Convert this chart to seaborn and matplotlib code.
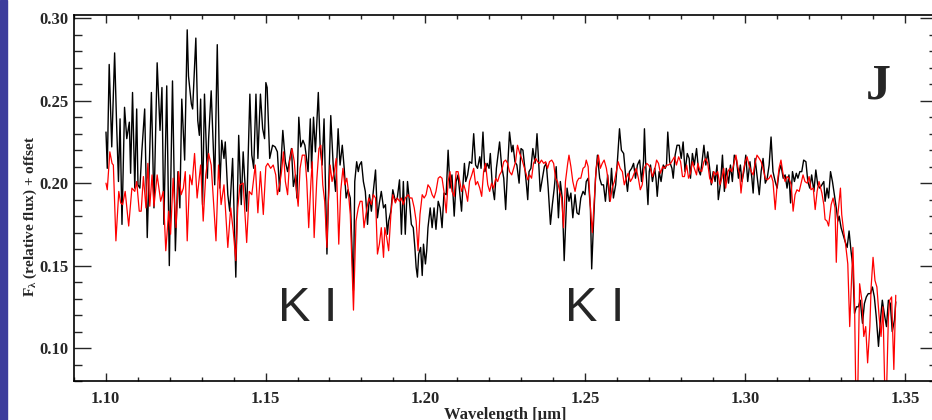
import matplotlib

matplotlib.use("Agg")
import matplotlib.pyplot as plt
import numpy as np
import pandas as pd
import seaborn as sns
from matplotlib.patches import Rectangle
from matplotlib.ticker import MultipleLocator

sns.set_theme(style="ticks")
plt.rcParams["font.family"] = ["Liberation Serif", "DejaVu Serif"]
plt.rcParams["mathtext.fontset"] = "custom"
plt.rcParams["mathtext.rm"] = "Liberation Serif:bold"
plt.rcParams["mathtext.it"] = "Liberation Serif:bold"
plt.rcParams["mathtext.bf"] = "Liberation Serif:bold"

# black spectrum (wavelength in micron, relative flux + offset)
black_wl = [
    1.1001, 1.1005, 1.1011, 1.1019, 1.1028, 1.1034, 1.1040, 1.1045, 1.1051, 1.1059,
    1.1066, 1.1074, 1.1078, 1.1084, 1.1091, 1.1097, 1.1101, 1.1107, 1.1113, 1.1122,
    1.1130, 1.1143, 1.1151, 1.1161, 1.1170, 1.1176, 1.1182, 1.1191, 1.1199, 1.1209,
    1.1218, 1.1226, 1.1232, 1.1238, 1.1247, 1.1255, 1.1259, 1.1268, 1.1272, 1.1282,
    1.1288, 1.1293, 1.1297, 1.1303, 1.1309, 1.1318, 1.1322, 1.1330, 1.1341, 1.1349,
    1.1357, 1.1363, 1.1370, 1.1374, 1.1382, 1.1388, 1.1397, 1.1407, 1.1416, 1.1424,
    1.1430, 1.1434, 1.1441, 1.1451, 1.1457, 1.1463, 1.1470, 1.1476, 1.1484, 1.1491,
    1.1497, 1.1501, 1.1505, 1.1513, 1.1522, 1.1530,
    1.1537, 1.1544, 1.1548, 1.1554, 1.1562, 1.1569, 1.1575, 1.1581, 1.1587, 1.1594,
    1.1598, 1.1604, 1.1610, 1.1617, 1.1623, 1.1627, 1.1633, 1.1640, 1.1644, 1.1650,
    1.1656, 1.1665, 1.1671, 1.1677, 1.1683, 1.1692, 1.1698, 1.1704, 1.1712, 1.1719,
    1.1727, 1.1733, 1.1740, 1.1746, 1.1752, 1.1758, 1.1765, 1.1775, 1.1779, 1.1785,
    1.1790, 1.1794, 1.1800, 1.1806, 1.1812, 1.1819, 1.1825, 1.1831, 1.1837, 1.1844,
    1.1850, 1.1856, 1.1862, 1.1869, 1.1875, 1.1881, 1.1885, 1.1892, 1.1898, 1.1906,
    1.1912, 1.1919, 1.1925, 1.1931, 1.1937, 1.1944, 1.1950, 1.1956, 1.1962, 1.1967,
    1.1971, 1.1975, 1.1979, 1.1985, 1.1990, 1.1994, 1.2000, 1.2004, 1.2008, 1.2015,
    1.2021, 1.2027, 1.2033, 1.2040, 1.2046, 1.2052, 1.2058, 1.2065, 1.2071, 1.2077,
    1.2083, 1.2090, 1.2096, 1.2102,
    1.2113, 1.2118, 1.2122, 1.2126, 1.2132, 1.2138, 1.2145, 1.2151, 1.2157, 1.2163,
    1.2170, 1.2174, 1.2180, 1.2186, 1.2193, 1.2199, 1.2203, 1.2209, 1.2216, 1.2222,
    1.2232, 1.2238, 1.2245, 1.2251, 1.2257, 1.2263, 1.2270, 1.2274, 1.2280, 1.2286,
    1.2293, 1.2299, 1.2305, 1.2311, 1.2316, 1.2320, 1.2324, 1.2330, 1.2336, 1.2343,
    1.2349, 1.2353, 1.2359, 1.2366, 1.2372, 1.2378, 1.2384, 1.2391, 1.2397, 1.2403,
    1.2409, 1.2416, 1.2422, 1.2428, 1.2434, 1.2438, 1.2443, 1.2449, 1.2455, 1.2461,
    1.2468, 1.2474, 1.2480, 1.2486, 1.2493, 1.2499, 1.2503, 1.2509, 1.2516, 1.2520,
    1.2526, 1.2532, 1.2538, 1.2545, 1.2551, 1.2557, 1.2563, 1.2570, 1.2576, 1.2582,
    1.2588, 1.2595, 1.2601, 1.2607, 1.2613, 1.2620, 1.2626, 1.2632, 1.2638, 1.2645,
    1.2651, 1.2657, 1.2663, 1.2670, 1.2676, 1.2682,
    1.2685, 1.2689, 1.2696, 1.2700, 1.2704, 1.2710, 1.2717, 1.2721, 1.2725, 1.2731,
    1.2737, 1.2744, 1.2750, 1.2754, 1.2758, 1.2764, 1.2771, 1.2775, 1.2781, 1.2787,
    1.2794, 1.2800, 1.2806, 1.2812, 1.2819, 1.2825, 1.2829, 1.2835, 1.2841, 1.2848,
    1.2854, 1.2860, 1.2864, 1.2871, 1.2877, 1.2883, 1.2889, 1.2894, 1.2900, 1.2906,
    1.2912, 1.2916, 1.2923, 1.2929, 1.2935, 1.2941, 1.2948, 1.2954, 1.2960, 1.2966,
    1.2973, 1.2979, 1.2985, 1.2990, 1.2996, 1.3002, 1.3008, 1.3015, 1.3021, 1.3025,
    1.3031, 1.3037, 1.3044, 1.3050, 1.3056, 1.3063, 1.3069, 1.3075, 1.3081, 1.3087,
    1.3094, 1.3100, 1.3106, 1.3112, 1.3119, 1.3125, 1.3131, 1.3137, 1.3142, 1.3148,
    1.3154, 1.3160, 1.3165, 1.3171, 1.3177, 1.3183, 1.3190, 1.3196, 1.3202, 1.3208,
    1.3215, 1.3221, 1.3227, 1.3233, 1.3240, 1.3246, 1.3250, 1.3256, 1.3261,
    1.3267, 1.3273, 1.3279, 1.3285, 1.3290, 1.3294, 1.3300, 1.3306, 1.3312, 1.3319,
    1.3325, 1.3331, 1.3337, 1.3342, 1.3348, 1.3354, 1.3360, 1.3367, 1.3373, 1.3379,
    1.3385, 1.3392, 1.3398, 1.3404, 1.3410, 1.3417, 1.3423, 1.3429, 1.3435, 1.3442,
    1.3448, 1.3454, 1.3460, 1.3467, 1.3471,
]
black_flux = [
    0.231, 0.209, 0.272, 0.222, 0.279, 0.237, 0.201, 0.239, 0.175, 0.246,
    0.227, 0.237, 0.206, 0.255, 0.197, 0.245, 0.199, 0.197, 0.219, 0.245,
    0.167, 0.255, 0.185, 0.273, 0.232, 0.258, 0.175, 0.259, 0.150, 0.262,
    0.159, 0.207, 0.185, 0.251, 0.214, 0.293, 0.265, 0.248, 0.245, 0.288,
    0.238, 0.229, 0.251, 0.187, 0.254, 0.203, 0.227, 0.256, 0.199, 0.284,
    0.197, 0.226, 0.215, 0.225, 0.193, 0.183, 0.215, 0.143, 0.229, 0.187,
    0.219, 0.205, 0.183, 0.254, 0.217, 0.209, 0.254, 0.215, 0.254, 0.233,
    0.227, 0.261, 0.258, 0.215, 0.223, 0.222,
    0.219, 0.195, 0.211, 0.232, 0.213, 0.207, 0.214, 0.221, 0.198, 0.205,
    0.191, 0.240, 0.222, 0.226, 0.223, 0.217, 0.207, 0.239, 0.209, 0.240,
    0.219, 0.255, 0.221, 0.211, 0.239, 0.157, 0.201, 0.241, 0.209, 0.195,
    0.233, 0.211, 0.223, 0.209, 0.191, 0.196, 0.191, 0.135, 0.201, 0.213,
    0.207, 0.211, 0.213, 0.201, 0.195, 0.175, 0.193, 0.183, 0.195, 0.208,
    0.179, 0.188, 0.195, 0.185, 0.187, 0.169, 0.177, 0.183, 0.196, 0.189,
    0.191, 0.202, 0.169, 0.201, 0.169, 0.201, 0.189, 0.175, 0.173, 0.161,
    0.149, 0.143, 0.157, 0.161, 0.144, 0.163, 0.151, 0.159, 0.173, 0.185,
    0.173, 0.185, 0.172, 0.189, 0.185, 0.173, 0.194, 0.193, 0.220, 0.197,
    0.205, 0.180, 0.201, 0.205,
    0.183, 0.201, 0.212, 0.201, 0.205, 0.213, 0.212, 0.230, 0.211, 0.209,
    0.216, 0.209, 0.231, 0.207, 0.212, 0.209, 0.218, 0.199, 0.190, 0.209,
    0.225, 0.211, 0.203, 0.184, 0.209, 0.231, 0.219, 0.223, 0.213, 0.211,
    0.200, 0.221, 0.220, 0.209, 0.199, 0.190, 0.207, 0.209, 0.221, 0.212,
    0.230, 0.217, 0.195, 0.203, 0.210, 0.212, 0.197, 0.175, 0.187, 0.197,
    0.210, 0.179, 0.201, 0.191, 0.153, 0.173, 0.197, 0.189, 0.194, 0.179,
    0.193, 0.182, 0.181, 0.191, 0.195, 0.193, 0.201, 0.203, 0.185, 0.148,
    0.177, 0.203, 0.217, 0.203, 0.199, 0.199, 0.189, 0.205, 0.189, 0.209,
    0.191, 0.199, 0.215, 0.233, 0.220, 0.218, 0.205, 0.195, 0.207, 0.209,
    0.212, 0.203, 0.211, 0.214, 0.201, 0.213,
    0.233, 0.211, 0.187, 0.207, 0.211, 0.201, 0.209, 0.203, 0.192, 0.207,
    0.201, 0.211, 0.209, 0.211, 0.231, 0.213, 0.209, 0.203, 0.217, 0.223,
    0.223, 0.215, 0.225, 0.207, 0.218, 0.215, 0.203, 0.218, 0.211, 0.221,
    0.208, 0.205, 0.211, 0.223, 0.211, 0.219, 0.209, 0.199, 0.207, 0.201,
    0.211, 0.190, 0.200, 0.217, 0.195, 0.209, 0.200, 0.211, 0.201, 0.217,
    0.214, 0.203, 0.211, 0.201, 0.207, 0.217, 0.201, 0.213, 0.203, 0.194,
    0.215, 0.205, 0.193, 0.207, 0.215, 0.200, 0.203, 0.211, 0.228, 0.207,
    0.201, 0.197, 0.207, 0.211, 0.203, 0.205, 0.197, 0.205, 0.188, 0.207,
    0.201, 0.206, 0.203, 0.207, 0.207, 0.214, 0.213, 0.201, 0.197, 0.205,
    0.195, 0.208, 0.199, 0.197, 0.199, 0.201, 0.189, 0.197, 0.191,
    0.207, 0.201, 0.193, 0.185, 0.177, 0.180, 0.173, 0.169, 0.165, 0.161,
    0.171, 0.159, 0.149, 0.121, 0.125, 0.125, 0.129, 0.115, 0.127, 0.131,
    0.133, 0.133, 0.137, 0.131, 0.119, 0.101, 0.117, 0.129, 0.121, 0.113,
    0.129, 0.127, 0.110, 0.117, 0.128,
]

# red comparison spectrum
red_wl = [
    1.1001, 1.1005, 1.1013, 1.1020, 1.1024, 1.1032, 1.1041, 1.1047, 1.1053, 1.1061,
    1.1072, 1.1082, 1.1091, 1.1097, 1.1105, 1.1111, 1.1118, 1.1126, 1.1132, 1.1138,
    1.1145, 1.1151, 1.1161, 1.1172, 1.1180, 1.1188, 1.1197, 1.1203, 1.1211, 1.1220,
    1.1228, 1.1236, 1.1243, 1.1249, 1.1255, 1.1263, 1.1270, 1.1278, 1.1286, 1.1297,
    1.1305, 1.1313, 1.1322, 1.1330, 1.1345, 1.1353, 1.1361, 1.1370, 1.1382, 1.1391,
    1.1399, 1.1407, 1.1413, 1.1420, 1.1430, 1.1441, 1.1449, 1.1457, 1.1468, 1.1476,
    1.1484, 1.1493, 1.1501, 1.1507, 1.1516, 1.1524, 1.1532,
    1.1537, 1.1544, 1.1550, 1.1556, 1.1562, 1.1569, 1.1575, 1.1583, 1.1590, 1.1596,
    1.1602, 1.1608, 1.1615, 1.1623, 1.1629, 1.1635, 1.1642, 1.1646, 1.1652, 1.1660,
    1.1667, 1.1673, 1.1679, 1.1685, 1.1692, 1.1696, 1.1702, 1.1708, 1.1715, 1.1721,
    1.1729, 1.1735, 1.1742, 1.1748, 1.1754, 1.1758, 1.1765, 1.1775, 1.1783, 1.1790,
    1.1796, 1.1802, 1.1808, 1.1817, 1.1823, 1.1831, 1.1837, 1.1844, 1.1850, 1.1856,
    1.1862, 1.1869, 1.1873, 1.1879, 1.1885, 1.1892, 1.1898, 1.1906, 1.1912, 1.1919,
    1.1925, 1.1931, 1.1937, 1.1946, 1.1952, 1.1958, 1.1965, 1.1971, 1.1977, 1.1983,
    1.1990, 1.1996, 1.2002, 1.2008, 1.2015, 1.2021, 1.2027, 1.2033, 1.2040, 1.2046,
    1.2052, 1.2058, 1.2065, 1.2071, 1.2077, 1.2083, 1.2090, 1.2096, 1.2102,
    1.2113, 1.2120, 1.2126, 1.2132, 1.2138, 1.2145, 1.2151, 1.2157, 1.2163, 1.2170,
    1.2176, 1.2182, 1.2188, 1.2195, 1.2201, 1.2207, 1.2213, 1.2220, 1.2226, 1.2232,
    1.2238, 1.2245, 1.2251, 1.2257, 1.2263, 1.2270, 1.2276, 1.2282, 1.2288, 1.2295,
    1.2301, 1.2307, 1.2313, 1.2320, 1.2326, 1.2332, 1.2338, 1.2345, 1.2351, 1.2357,
    1.2363, 1.2370, 1.2376, 1.2382, 1.2388, 1.2395, 1.2401, 1.2407, 1.2413, 1.2420,
    1.2426, 1.2432, 1.2438, 1.2445, 1.2449, 1.2455, 1.2461, 1.2468, 1.2474, 1.2480,
    1.2486, 1.2493, 1.2499, 1.2503, 1.2509, 1.2516, 1.2522, 1.2528, 1.2534, 1.2541,
    1.2547, 1.2553, 1.2559, 1.2566, 1.2572, 1.2578, 1.2584, 1.2591, 1.2597, 1.2603,
    1.2609, 1.2616, 1.2622, 1.2628, 1.2634, 1.2641, 1.2647, 1.2653, 1.2659, 1.2666,
    1.2672, 1.2678, 1.2684,
    1.2692, 1.2698, 1.2704, 1.2710, 1.2717, 1.2723, 1.2729, 1.2735, 1.2742, 1.2748,
    1.2754, 1.2760, 1.2767, 1.2773, 1.2779, 1.2785, 1.2792, 1.2798, 1.2804, 1.2810,
    1.2817, 1.2823, 1.2829, 1.2835, 1.2841, 1.2848, 1.2852, 1.2858, 1.2864, 1.2871,
    1.2877, 1.2883, 1.2889, 1.2896, 1.2902, 1.2908, 1.2914, 1.2921, 1.2927, 1.2933,
    1.2939, 1.2946, 1.2952, 1.2958, 1.2964, 1.2971, 1.2977, 1.2983, 1.2987, 1.2994,
    1.3000, 1.3006, 1.3012, 1.3019, 1.3025, 1.3031, 1.3037, 1.3044, 1.3050, 1.3056,
    1.3063, 1.3069, 1.3075, 1.3081, 1.3087, 1.3094, 1.3100, 1.3106, 1.3112, 1.3119,
    1.3125, 1.3131, 1.3137, 1.3144, 1.3150, 1.3156, 1.3162, 1.3169, 1.3175, 1.3181,
    1.3187, 1.3194, 1.3200, 1.3206, 1.3213, 1.3219, 1.3225, 1.3231, 1.3240, 1.3246,
    1.3250, 1.3256, 1.3261,
    1.3269, 1.3275, 1.3281, 1.3285, 1.3290, 1.3294, 1.3298, 1.3302, 1.3308, 1.3314,
    1.3321, 1.3327, 1.3333, 1.3337, 1.3342, 1.3346, 1.3352, 1.3358, 1.3365, 1.3371,
    1.3377, 1.3383, 1.3390, 1.3394, 1.3400, 1.3406, 1.3412, 1.3419, 1.3425, 1.3431,
    1.3437, 1.3442, 1.3448, 1.3452, 1.3458, 1.3465, 1.3471,
]
red_flux = [
    0.200, 0.196, 0.219, 0.212, 0.211, 0.165, 0.195, 0.188, 0.187, 0.195,
    0.174, 0.197, 0.195, 0.201, 0.183, 0.183, 0.204, 0.185, 0.212, 0.186,
    0.205, 0.186, 0.205, 0.189, 0.195, 0.159, 0.183, 0.169, 0.203, 0.173,
    0.207, 0.193, 0.197, 0.207, 0.165, 0.205, 0.199, 0.218, 0.191, 0.211,
    0.177, 0.205, 0.218, 0.211, 0.165, 0.211, 0.187, 0.199, 0.161, 0.185,
    0.171, 0.153, 0.185, 0.199, 0.200, 0.164, 0.195, 0.193, 0.211, 0.182,
    0.207, 0.181, 0.210, 0.212, 0.209, 0.211, 0.205,
    0.193, 0.199, 0.207, 0.219, 0.201, 0.193, 0.213, 0.221, 0.213, 0.197,
    0.186, 0.209, 0.217, 0.217, 0.201, 0.173, 0.201, 0.213, 0.167, 0.201,
    0.221, 0.223, 0.199, 0.189, 0.161, 0.187, 0.211, 0.201, 0.207, 0.215,
    0.163, 0.195, 0.209, 0.199, 0.203, 0.197, 0.181, 0.123, 0.177, 0.185,
    0.189, 0.189, 0.173, 0.185, 0.191, 0.187, 0.193, 0.191, 0.157, 0.163,
    0.173, 0.155, 0.173, 0.167, 0.159, 0.181, 0.193, 0.188, 0.191, 0.189,
    0.191, 0.187, 0.191, 0.193, 0.191, 0.191, 0.185, 0.177, 0.159, 0.181,
    0.193, 0.191, 0.193, 0.199, 0.197, 0.193, 0.191, 0.195, 0.203, 0.204,
    0.203, 0.195, 0.182, 0.201, 0.207, 0.195, 0.192, 0.207, 0.207,
    0.195, 0.199, 0.195, 0.189, 0.201, 0.205, 0.209, 0.199, 0.201, 0.197,
    0.192, 0.207, 0.212, 0.199, 0.195, 0.200, 0.197, 0.203, 0.201, 0.205,
    0.207, 0.213, 0.214, 0.212, 0.207, 0.205, 0.209, 0.213, 0.223, 0.218,
    0.215, 0.211, 0.207, 0.202, 0.205, 0.203, 0.212, 0.215, 0.213, 0.212,
    0.214, 0.212, 0.213, 0.209, 0.213, 0.214, 0.212, 0.203, 0.201, 0.195,
    0.191, 0.173, 0.201, 0.212, 0.217, 0.210, 0.201, 0.195, 0.201, 0.203,
    0.203, 0.209, 0.210, 0.214, 0.210, 0.185, 0.170, 0.189, 0.209, 0.217,
    0.209, 0.212, 0.214, 0.209, 0.201, 0.189, 0.197, 0.201, 0.207, 0.213,
    0.209, 0.207, 0.199, 0.203, 0.206, 0.201, 0.203, 0.206, 0.209, 0.203,
    0.196, 0.199, 0.209,
    0.212, 0.211, 0.209, 0.204, 0.208, 0.214, 0.212, 0.206, 0.210, 0.209,
    0.211, 0.211, 0.212, 0.214, 0.216, 0.211, 0.216, 0.213, 0.204, 0.204,
    0.211, 0.203, 0.206, 0.213, 0.209, 0.205, 0.212, 0.208, 0.207, 0.213,
    0.215, 0.212, 0.203, 0.200, 0.207, 0.205, 0.207, 0.199, 0.203, 0.209,
    0.197, 0.207, 0.209, 0.207, 0.211, 0.217, 0.210, 0.205, 0.194, 0.207,
    0.213, 0.216, 0.211, 0.207, 0.205, 0.212, 0.217, 0.215, 0.213, 0.209,
    0.203, 0.202, 0.203, 0.205, 0.201, 0.184, 0.199, 0.209, 0.214, 0.205,
    0.201, 0.204, 0.203, 0.199, 0.183, 0.193, 0.196, 0.195, 0.200, 0.205,
    0.201, 0.200, 0.204, 0.196, 0.197, 0.184, 0.195, 0.201, 0.194, 0.187,
    0.178, 0.177, 0.174,
    0.187, 0.191, 0.185, 0.152, 0.181, 0.189, 0.197, 0.181, 0.171, 0.163,
    0.151, 0.113, 0.143, 0.161, 0.129, 0.072, 0.072, 0.139, 0.129, 0.107,
    0.113, 0.091, 0.113, 0.137, 0.155, 0.141, 0.137, 0.119, 0.107, 0.125,
    0.072, 0.072, 0.119, 0.129, 0.131, 0.087, 0.132,
]

# K I doublet positions (label anchors)
ki_labels = ["K I", "K I"]
ki_wl = [1.1632, 1.2529]
ki_flux = [0.124, 0.124]

black = pd.DataFrame({"wl": black_wl, "flux": black_flux})
red = pd.DataFrame({"wl": red_wl, "flux": red_flux})

fig = plt.figure(figsize=(9.32, 4.2), dpi=100)
ax = fig.add_axes([73.7 / 932, 1 - 381 / 420, (937 - 73.7) / 932, (381 - 15) / 420])

sns.lineplot(data=black, x="wl", y="flux", sort=False, estimator=None,
             color="black", lw=1.0, ax=ax)
sns.lineplot(data=red, x="wl", y="flux", sort=False, estimator=None,
             color="red", lw=0.9, ax=ax)

ax.set_xlim(1.09, 1.36)
ax.set_ylim(0.08, 0.302)
ax.xaxis.set_major_locator(MultipleLocator(0.05))
ax.xaxis.set_minor_locator(MultipleLocator(0.01))
ax.yaxis.set_major_locator(MultipleLocator(0.05))
ax.yaxis.set_minor_locator(MultipleLocator(0.01))
ax.xaxis.set_major_formatter(matplotlib.ticker.FormatStrFormatter("%.2f"))
ax.yaxis.set_major_formatter(matplotlib.ticker.FormatStrFormatter("%.2f"))

ax.tick_params(axis="x", which="major", direction="in", length=6, width=1,
               top=True, pad=7, labelsize=12)
ax.tick_params(axis="x", which="minor", direction="in", length=3, width=1, top=True)
ax.tick_params(axis="y", which="major", direction="in", length=12, width=1,
               right=True, pad=4, labelsize=12)
ax.tick_params(axis="y", which="minor", direction="in", length=6, width=1, right=True)
for lab in ax.get_xticklabels() + ax.get_yticklabels():
    lab.set_fontweight("bold")
for sp in ax.spines.values():
    sp.set_linewidth(1.2)
    sp.set_color("black")

ax.set_xlabel("Wavelength [μm]", fontsize=12, fontweight="bold", labelpad=0)
ax.set_ylabel(r"F$_\lambda$ (relative flux) + offset", fontsize=11,
              fontweight="bold")
ax.yaxis.set_label_coords(-0.040, 0.45)

for lab, x, y in zip(ki_labels, ki_wl, ki_flux):
    ax.text(x, y, lab, fontsize=35, family=["Liberation Sans", "DejaVu Sans"],
            ha="center", va="center")
ax.text(1.3417, 0.2589, "J", fontsize=36, fontweight="bold",
        ha="center", va="center")

fig.patches.append(Rectangle((0, 0), 7 / 932, 1, transform=fig.transFigure,
                             color="#3c3c9c", zorder=5))

fig.savefig("out.png", dpi=100)
